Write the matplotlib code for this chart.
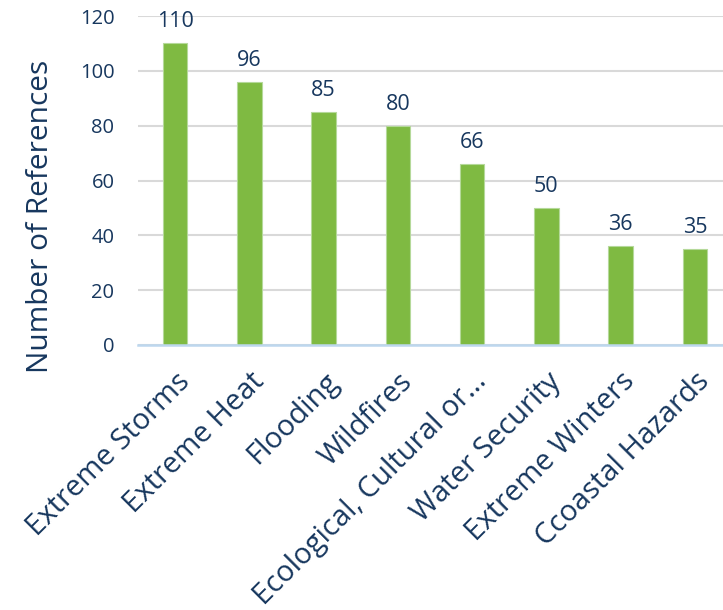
import matplotlib.pyplot as plt

categories = ['Extreme Storms', 'Extreme Heat', 'Flooding', 'Wildfires',
              'Ecological, Cultural or...', 'Water Security', 'Extreme Winters',
              'Ccoastal Hazards']
references = [110, 96, 85, 80, 66, 50, 36, 35]
yticks = [0, 20, 40, 60, 80, 100, 120]

navy = '#17375E'
plt.rcParams['font.family'] = ['Open Sans', 'DejaVu Sans']

fig = plt.figure(figsize=(7.23, 6.10), dpi=100)
ax = fig.add_axes([138 / 723, 1 - 345 / 610, 594 / 723, 329 / 610])

x = range(len(categories))
bars = ax.bar(x, references, width=0.33, color='#7FBA42', edgecolor='#B5D99A',
              linewidth=0.8, zorder=3)
for xi, v in zip(x, references):
    ax.annotate(str(v), (xi, v), xytext=(0, 8), textcoords='offset points',
                ha='center', va='bottom', fontsize=15.5, color=navy)

ax.set_xlim(-0.5, len(categories) - 0.5)
ax.set_ylim(0, 120)
ax.set_yticks(yticks)
ax.yaxis.grid(True, color='#D9D9D9', linewidth=1.5, zorder=0)
ax.set_axisbelow(True)
for side in ['top', 'right', 'left']:
    ax.spines[side].set_visible(False)
ax.spines['bottom'].set_color('#BDD7EE')
ax.spines['bottom'].set_linewidth(1.8)
ax.spines['bottom'].set_zorder(4)
ax.tick_params(axis='both', length=0)
ax.tick_params(axis='y', labelsize=14.5, labelcolor=navy, pad=17)

ax.set_xticks(list(x))
ax.set_xticklabels(categories, rotation=45, ha='right', rotation_mode='anchor',
                   fontsize=21, color=navy)
ax.tick_params(axis='x', pad=16)
ax.set_ylabel('Number of References', fontsize=21.5, color=navy)
ax.yaxis.set_label_coords(-0.14, 0.39)

fig.savefig('out.png', dpi=100)
